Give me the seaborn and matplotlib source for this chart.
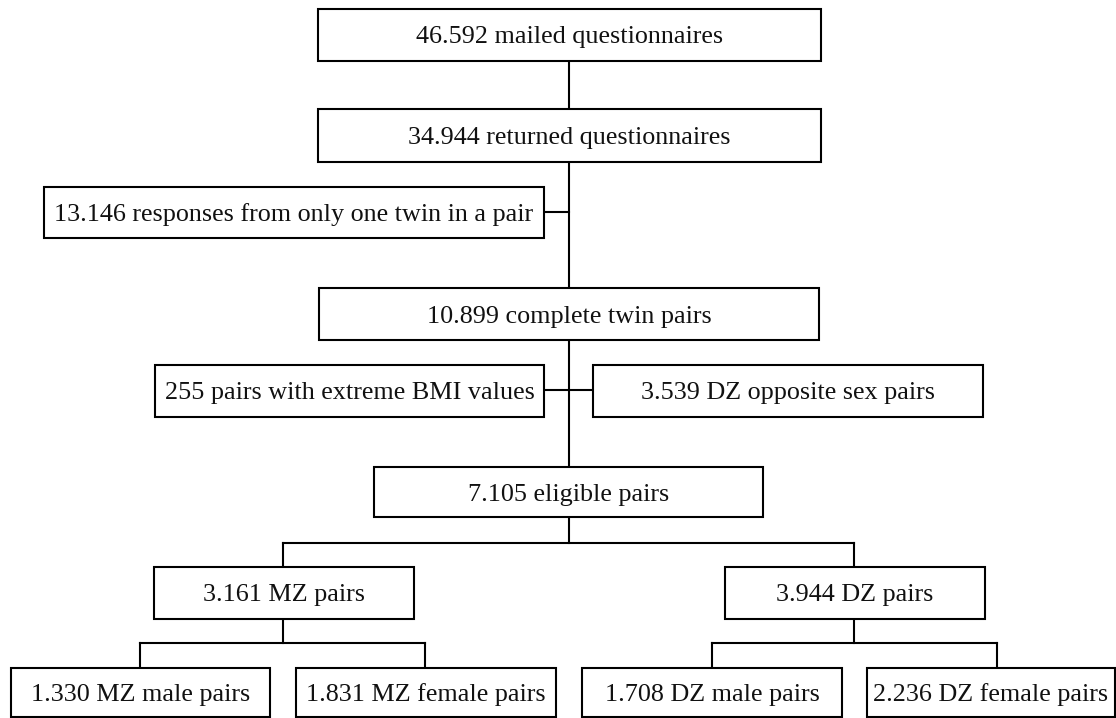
import matplotlib
matplotlib.use("Agg")
import matplotlib.pyplot as plt
from matplotlib.patches import Rectangle
import seaborn as sns

# ---- data ----
counts = [46592, 34944, 13146, 10899, 255, 3539, 7105, 3161, 3944, 1330, 1831, 1708, 2236]
descriptions = [
    "mailed questionnaires",
    "returned questionnaires",
    "responses from only one twin in a pair",
    "complete twin pairs",
    "pairs with extreme BMI values",
    "DZ opposite sex pairs",
    "eligible pairs",
    "MZ pairs",
    "DZ pairs",
    "MZ male pairs",
    "MZ female pairs",
    "DZ male pairs",
    "DZ female pairs",
]

def fmt(n):
    return f"{n:,}".replace(",", ".")

labels = [f"{fmt(c)} {d}" for c, d in zip(counts, descriptions)]

# ---- layout (pixel space, y downward) ----
boxes = [
    (318, 821, 9, 61),
    (318, 821, 109, 162),
    (44, 544, 187, 238),
    (319, 819, 288, 340),
    (155, 544, 365, 417),
    (593, 983, 365, 417),
    (374, 763, 467, 517),
    (154, 414, 567, 619),
    (725, 985, 567, 619),
    (11, 270, 668, 717),
    (296, 556, 668, 717),
    (582, 842, 668, 717),
    (867, 1115, 668, 717),
]

connectors = [
    [(569, 61), (569, 109)],
    [(569, 162), (569, 288)],
    [(544, 212), (569, 212)],
    [(569, 340), (569, 467)],
    [(544, 390), (593, 390)],
    [(569, 517), (569, 543)],
    [(283, 543), (854, 543)],
    [(283, 543), (283, 567)],
    [(854, 543), (854, 567)],
    [(283, 619), (283, 643)],
    [(140, 643), (425, 643)],
    [(140, 643), (140, 668)],
    [(425, 643), (425, 668)],
    [(854, 619), (854, 643)],
    [(712, 643), (997, 643)],
    [(712, 643), (712, 668)],
    [(997, 643), (997, 668)],
]

sns.set_theme(style="white")
plt.rcParams["font.family"] = ["Liberation Serif", "DejaVu Serif"]

W, H = 1116, 718
fig = plt.figure(figsize=(W / 100, H / 100), dpi=100)
ax = fig.add_axes([0, 0, 1, 1])
ax.set_xlim(0, W)
ax.set_ylim(H, 0)
ax.axis("off")

lw = 1.5
for seg in connectors:
    xs = [p[0] for p in seg]
    ys = [p[1] for p in seg]
    ax.plot(xs, ys, color="black", lw=lw, solid_capstyle="projecting", zorder=1)

for (x0, x1, y0, y1), lab in zip(boxes, labels):
    ax.add_patch(Rectangle((x0, y0), x1 - x0, y1 - y0, facecolor="white",
                           edgecolor="black", lw=lw, zorder=2))
    ax.text((x0 + x1) / 2, (y0 + y1) / 2 + 8.5, lab, ha="center", va="baseline",
            fontsize=18.8, color="#111111", zorder=3)

fig.savefig("out.png", dpi=100, facecolor="white")
